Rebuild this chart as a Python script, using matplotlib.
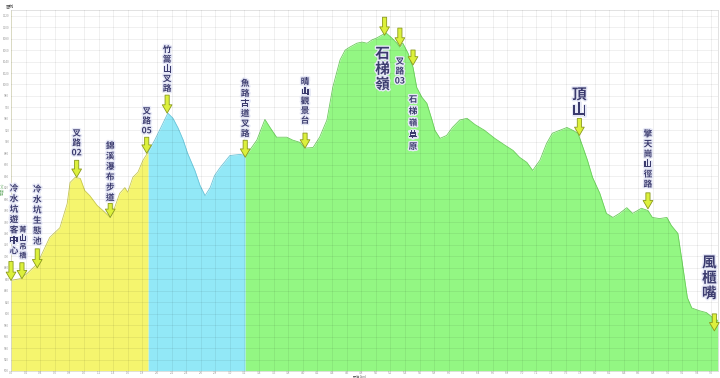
import re
import numpy as np
import matplotlib
matplotlib.use('Agg')
import matplotlib.pyplot as plt
import matplotlib.patheffects as pe

plt.rcParams['font.family'] = ['Noto Sans CJK TC', 'DejaVu Sans']

# 黃色段：冷水坑遊客中心 -> 叉路05
seg1_km = [0.00, 0.12, 0.22, 0.36, 0.53, 0.67, 0.77, 0.81, 0.88, 0.95, 1.01, 1.08,
           1.18, 1.26, 1.36, 1.42, 1.49, 1.56, 1.60, 1.67, 1.74, 1.81, 1.88]
seg1_m = [658, 661, 670, 687, 733, 750, 792, 829, 838, 836, 815, 806,
          789, 780, 768, 785, 810, 820, 812, 838, 847, 868, 882]

# 藍色段：叉路05 -> 竹篙山 -> 擎天崗
seg2_km = [1.88, 1.97, 2.07, 2.15, 2.22, 2.29, 2.36, 2.42, 2.52, 2.59, 2.66, 2.73,
           2.79, 2.86, 3.00, 3.14, 3.21]
seg2_m = [882, 903, 929, 950, 941, 924, 903, 880, 850, 824, 806, 820,
          841, 854, 876, 878, 876]

# 綠色段：擎天崗 -> 石梯嶺 -> 頂山 -> 風櫃嘴
seg3_km = [3.21, 3.27, 3.37, 3.48, 3.55, 3.64, 3.78, 3.86, 3.96, 4.03, 4.14, 4.23,
           4.33, 4.41, 4.51, 4.58, 4.64, 4.74, 4.81, 4.88, 4.95, 5.01, 5.08, 5.14,
           5.22, 5.29, 5.33, 5.37, 5.44, 5.51, 5.56, 5.63, 5.70, 5.77, 5.81, 5.88,
           5.97, 6.05, 6.15, 6.25, 6.36, 6.49, 6.63, 6.77, 6.88, 6.97, 7.07, 7.15,
           7.25, 7.34, 7.42, 7.52, 7.62, 7.70, 7.77, 7.84, 7.90, 7.97, 8.07, 8.16,
           8.25, 8.34, 8.44, 8.52, 8.64, 8.73, 8.79, 8.89, 8.99, 9.05, 9.14, 9.21,
           9.27, 9.33, 9.44, 9.53, 9.62, 9.69]
seg3_m = [876, 885, 903, 939, 925, 908, 908, 903, 899, 889, 890, 908,
          938, 995, 1043, 1060, 1065, 1072, 1074, 1072, 1078, 1081, 1086, 1090,
          1081, 1072, 1065, 1072, 1055, 1030, 995, 978, 967, 938, 920, 906,
          911, 925, 938, 941, 930, 920, 906, 894, 885, 873, 864, 850,
          868, 897, 915, 920, 925, 920, 915, 890, 868, 838, 810, 775,
          768, 775, 785, 775, 784, 780, 768, 766, 768, 754, 740, 680,
          628, 610, 605, 602, 593, 588]

seg_colors = ['#f5f56e', '#92e8f7', '#93f783']
seg_edges = ['#c8c850', '#6cc4d8', '#6ccc5c']

# 地標
label_names = ['冷水坑遊客中心', '菁山吊橋', '冷水坑生態池', '叉路02', '錦溪瀑布步道',
               '叉路05', '竹篙山叉路', '魚路古道叉路', '晴山觀景台', '石梯嶺', '叉路03',
               '石梯嶺草原', '頂山', '擎天崗山徑路', '風櫃嘴']
label_km = [0.00, 0.15, 0.36, 0.90, 1.36, 1.86, 2.14, 3.21, 4.03, 5.12, 5.33,
            5.51, 7.79, 8.73, 9.64]
label_m = [658, 661, 680, 838, 768, 880, 950, 873, 889, 1086, 1067,
           1034, 911, 783, 570]
label_size = [6.2, 5.2, 6.2, 6.2, 6.2, 6.2, 6.2, 6.2, 6.2, 10.5, 6.2,
              6.2, 10.5, 6.2, 10.5]

# 版面：箭頭長度(px)、文字位移(px)、行距
arrow_len = [19, 16, 19, 17, 14, 16, 18, 17, 15, 18, 18, 15, 17, 16, 17]
text_dx = [3, 1, 0, 0, 0, 0, 0, 0, 0, -2, 0, 0, 0, 0, -5]
text_dy = [25, 20, 22, 20, 15, 18, 20, 19, 23, -10, -11, -30, 18, 20, 30]
line_sp = [1.2, 1.25, 1.2, 1.1, 1.2, 1.1, 1.1, 1.15, 1.1, 0.95, 1.1, 1.4, 0.95, 1.15, 0.95]

fig = plt.figure(figsize=(7.2, 3.78), dpi=100)
ax = fig.add_axes([11 / 720, 7 / 378, 707 / 720, 361 / 378])

for km, m, c, ec in zip([seg1_km, seg2_km, seg3_km], [seg1_m, seg2_m, seg3_m],
                        seg_colors, seg_edges):
    ax.fill_between(km, m, 500, color=c, lw=0, zorder=1)
    ax.plot(km, m, color=ec, lw=0.6, zorder=2)

ax.set_xlim(0, 9.69)
ax.set_ylim(500, 1130)
ax.set_xticks(np.arange(0, 9.61, 0.2))
ax.set_yticks(np.arange(500, 1121, 20))
ax.set_xticklabels([f'{v:.1f}' for v in np.arange(0, 9.61, 0.2)])
ax.tick_params(labelsize=2.2, colors='#999999', length=0)
ax.tick_params(axis='x', pad=0.2)
ax.tick_params(axis='y', pad=1.2)
ax.grid(True, color='#000000', alpha=0.07, lw=0.6, zorder=3)
ax.set_axisbelow(False)
for s in ax.spines.values():
    s.set_color('#dddddd')
    s.set_linewidth(0.6)
ax.spines['left'].set_color('#e4e4c8')
fig.text(0.5, 0.0, '距離 (km)', fontsize=2.2, color='#666666', ha='center', va='bottom')
fig.text(0.0, 0.5, '高度 (m)', fontsize=2.2, color='#66aa66', rotation=90,
         ha='left', va='center')

halo = [pe.withStroke(linewidth=2.0, foreground='#e6e8f6')]
for i, name in enumerate(label_names):
    tip = (label_km[i], label_m[i])
    ax.annotate('', xy=tip, xytext=(0, arrow_len[i]), textcoords='offset pixels',
                arrowprops=dict(arrowstyle='simple,head_length=0.6,head_width=0.7,tail_width=0.3',
                                mutation_scale=10, fc='#dcf03c', ec='#8a9a1c', lw=0.6,
                                shrinkA=0, shrinkB=0),
                zorder=6, annotation_clip=False)
    chars = re.findall(r'\d+|.', name)
    above = text_dy[i] > 0
    ax.annotate('\n'.join(chars), xy=tip, xytext=(text_dx[i], text_dy[i]),
                textcoords='offset pixels', ha='center', va='bottom' if above else 'top',
                fontsize=label_size[i], linespacing=line_sp[i],
                fontweight='bold', color='#3b3b6e', path_effects=halo, zorder=7,
                annotation_clip=False)

fig.text(0.008, 0.992, '圖例', fontsize=3, color='#555555', va='top')
fig.savefig('out.png', dpi=100)
